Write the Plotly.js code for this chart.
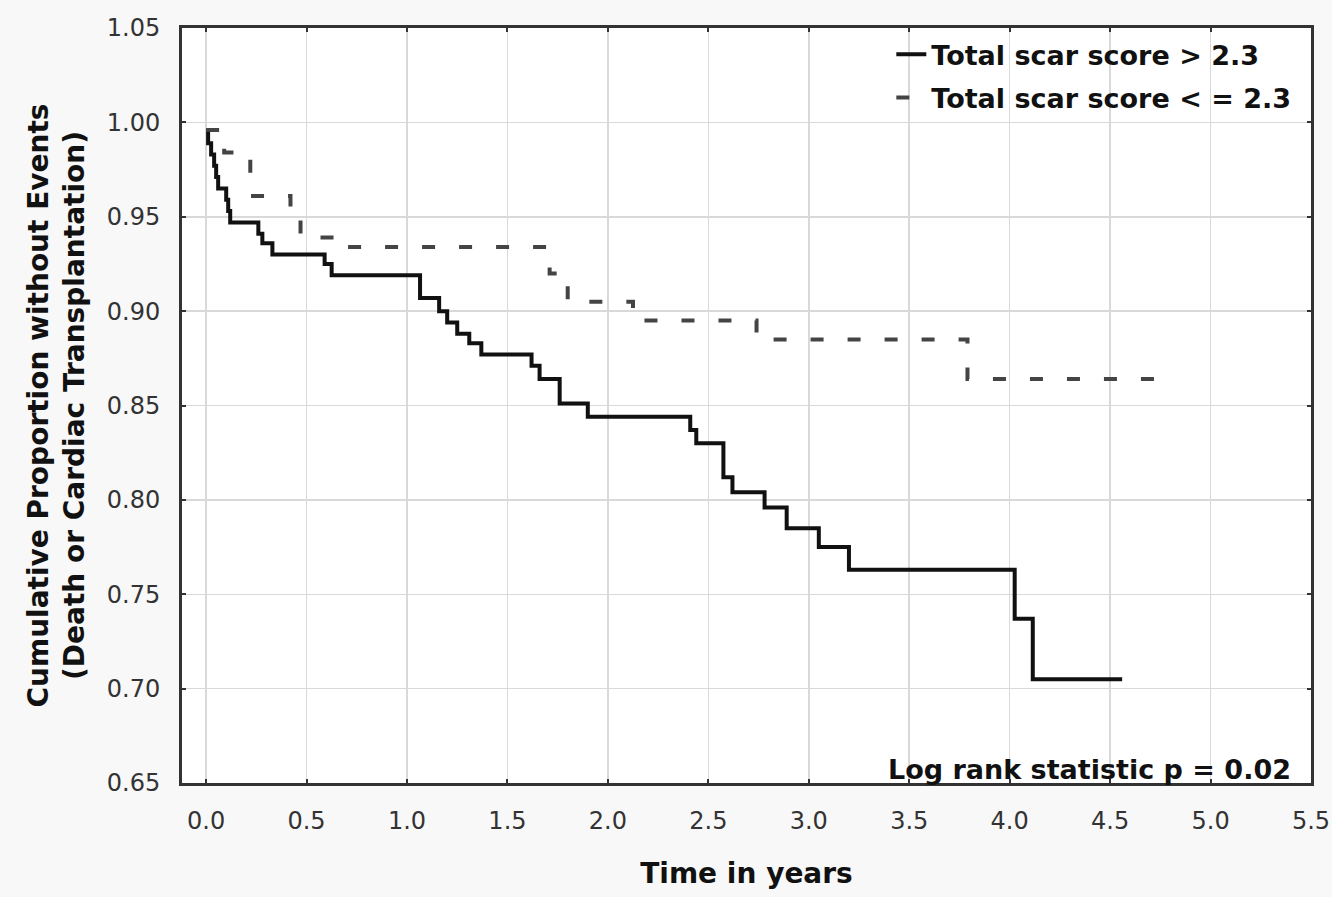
<!DOCTYPE html>
<html>
<head>
<meta charset="utf-8">
<script src="https://cdn.plot.ly/plotly-3.0.1.min.js"></script>
<style>html,body{margin:0;padding:0;background:#f8f8f8;}#chart{width:1332px;height:897px;}</style>
</head>
<body>
<div id="chart"></div>
<script>
// Kaplan-Meier steps
const highScoreTimes = [0, 0.01, 0.025, 0.04, 0.05, 0.06, 0.10, 0.11, 0.12, 0.26, 0.28, 0.33, 0.59, 0.625, 1.065, 1.16, 1.20, 1.25, 1.31, 1.37, 1.62, 1.66, 1.76, 1.90, 2.41, 2.44, 2.575, 2.62, 2.78, 2.89, 3.05, 3.20, 4.025, 4.115, 4.56];
const highScoreSurv  = [0.995, 0.989, 0.983, 0.977, 0.971, 0.965, 0.959, 0.953, 0.947, 0.941, 0.936, 0.930, 0.925, 0.919, 0.907, 0.900, 0.894, 0.888, 0.883, 0.877, 0.871, 0.864, 0.851, 0.844, 0.837, 0.830, 0.812, 0.804, 0.796, 0.785, 0.775, 0.763, 0.737, 0.705, 0.705];

const lowScoreTimes = [0, 0.09, 0.22, 0.42, 0.47, 0.69, 1.71, 1.80, 2.125, 2.74, 3.79, 4.72];
const lowScoreSurv  = [0.996, 0.984, 0.961, 0.955, 0.939, 0.934, 0.920, 0.905, 0.895, 0.885, 0.864, 0.864];

const seriesNames = ['Total scar score > 2.3', 'Total scar score < = 2.3'];
const xTickVals = [0, 0.5, 1.0, 1.5, 2.0, 2.5, 3.0, 3.5, 4.0, 4.5, 5.0, 5.5];
const yTickVals = [0.65, 0.70, 0.75, 0.80, 0.85, 0.90, 0.95, 1.00, 1.05];
const xTitle = 'Time in years';
const yTitle = 'Cumulative Proportion without Events<br>(Death or Cardiac Transplantation)';
const noteText = 'Log rank statistic p = 0.02';

const FONT = 'DejaVu Sans, Liberation Sans, Arial, sans-serif';

const traces = [
  {x: highScoreTimes, y: highScoreSurv, name: seriesNames[0], legendgroup: 'g1', type: 'scatter', mode: 'lines',
   line: {shape: 'hv', color: '#111', width: 4}},
  {x: lowScoreTimes, y: lowScoreSurv, name: seriesNames[1], legendgroup: 'g2', type: 'scatter', mode: 'lines',
   line: {shape: 'hv', color: '#444', width: 4, dash: '13px,24px'}}
];

const layout = {
  width: 1332, height: 897,
  paper_bgcolor: '#f8f8f8', plot_bgcolor: '#ffffff',
  margin: {l: 182, r: 21, t: 28, b: 114},
  showlegend: true,
  legend: {x: 0.987, xanchor: 'right', y: 0.997, yanchor: 'top', bgcolor: 'rgba(0,0,0,0)',
           font: {family: FONT, size: 27, color: '#111', weight: 'bold'}, tracegroupgap: 5},
  xaxis: {
    range: [-0.12, 5.5], tickvals: xTickVals, tickformat: '.1f',
    showgrid: true, gridcolor: '#d9d9d9', gridwidth: 1.5, zeroline: false,
    showline: true, linecolor: '#333', linewidth: 3, mirror: 'allticks',
    ticks: 'inside', ticklen: 4, tickcolor: '#333', tickwidth: 2,
    tickfont: {family: FONT, size: 24, color: '#333'}, ticklabelstandoff: 14,
    title: {text: xTitle, font: {family: FONT, size: 28, color: '#111', weight: 'bold'}, standoff: 30}
  },
  yaxis: {
    range: [0.65, 1.05], tickvals: yTickVals, tickformat: '.2f',
    showgrid: true, gridcolor: '#d9d9d9', gridwidth: 1.5, zeroline: false,
    showline: true, linecolor: '#333', linewidth: 3, mirror: 'allticks',
    ticks: 'inside', ticklen: 4, tickcolor: '#333', tickwidth: 2,
    tickfont: {family: FONT, size: 24, color: '#333'}, ticklabelstandoff: 14,
    title: {text: yTitle, font: {family: FONT, size: 28, color: '#111', weight: 'bold'}, standoff: 14}
  },
  annotations: [
    {text: noteText, xref: 'paper', yref: 'paper', x: 1, y: 0, xanchor: 'right', yanchor: 'bottom',
     xshift: -18, yshift: -4, showarrow: false,
     font: {family: FONT, size: 27, color: '#111', weight: 'bold'}}
  ]
};

Plotly.newPlot('chart', traces, layout, {displayModeBar: false, staticPlot: true});
</script>
</body>
</html>
